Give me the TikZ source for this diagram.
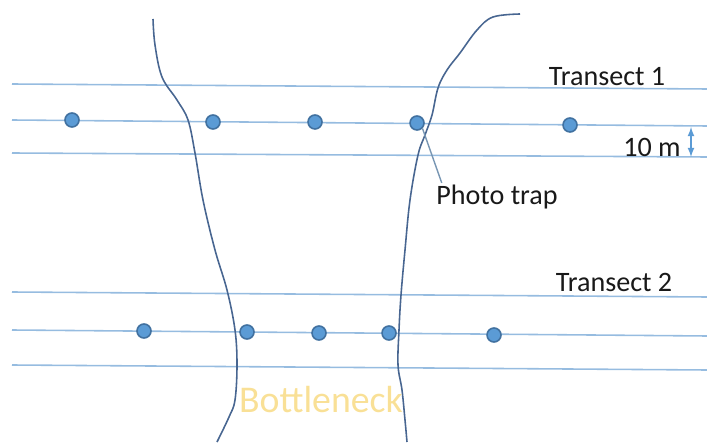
\documentclass[tikz,border=0pt]{standalone}
\usepackage{fontspec}
\setmainfont{Carlito}
\usepackage{xcolor}
\definecolor{transect}{RGB}{150,188,224}
\definecolor{camera}{RGB}{91,155,213}
\definecolor{cameraedge}{RGB}{65,113,160}
\definecolor{bank}{RGB}{72,102,145}
\definecolor{bottle}{RGB}{249,224,150}
\definecolor{label}{RGB}{25,25,25}
\tikzstyle{transect}=[color=transect, line width=0.9pt]
\tikzstyle{camera}=[circle, minimum size=14*0.2mm, inner sep=0pt, fill=camera, draw=cameraedge, line width=0.9pt]
\tikzstyle{bank}=[color=bank, line width=0.9pt]
\tikzstyle{label}=[text=label, font=\fontsize{16pt}{18pt}\selectfont, inner sep=1pt]

\begin{document}
\begin{tikzpicture}[x=0.2mm,y=-0.2mm]
  \useasboundingbox (0,0) rectangle (707,444);

  %% Transect 1
  \coordinate (A1W) at (12,84);  \coordinate (A1E) at (707,89);
  \coordinate (B1W) at (12,120); \coordinate (B1E) at (707,126);
  \coordinate (C1W) at (12,153); \coordinate (C1E) at (707,157);
  \draw[transect] (A1W) -- (A1E);
  \draw[transect] (B1W) -- (B1E);
  \draw[transect] (C1W) -- (C1E);

  %% Transect 2
  \coordinate (A2W) at (12,292); \coordinate (A2E) at (707,297);
  \coordinate (B2W) at (12,330); \coordinate (B2E) at (707,336);
  \coordinate (C2W) at (12,365); \coordinate (C2E) at (707,370);
  \draw[transect] (A2W) -- (A2E);
  \draw[transect] (B2W) -- (B2E);
  \draw[transect] (C2W) -- (C2E);

  %% Banks of the bottleneck
  \draw[bank] plot[smooth, tension=0.6] coordinates {(153,19) (155,45) (162,77) (177,100) (188,120) (195,153) (203,200) (215,250) (227,290) (235,330) (237,365) (235,400) (229,417) (217,442)};
  \draw[bank] plot[smooth, tension=0.6] coordinates {(520,14) (493,17) (477,30) (460,53) (447,70) (438,88) (432,115) (425,135) (418,155) (410,200) (405,250) (401,295) (399,330) (398,365) (402,390) (405,420) (407,442)};

  %% Photo traps
  \draw (72,120)  node[camera] (P11) {};
  \draw (213,122) node[camera] (P12) {};
  \draw (315,122) node[camera] (P13) {};
  \draw (417,123) node[camera] (P14) {};
  \draw (570,125) node[camera] (P15) {};

  \draw (144,331) node[camera] (P21) {};
  \draw (247,332) node[camera] (P22) {};
  \draw (319,333) node[camera] (P23) {};
  \draw (389,333) node[camera] (P24) {};
  \draw (494,335) node[camera] (P25) {};

  %% Labels
  \draw (607,77)  node[label] (T1) {Transect 1};
  \draw (614,282) node[label] (T2) {Transect 2};
  \draw (652,147) node[label] (W) {10 m};
  \draw (497,197) node[label] (PT) {Photo trap};
  \draw (321,400) node[text=bottle, font=\fontsize{21.5pt}{24pt}\selectfont, inner sep=1pt] (BN) {Bottleneck};

  \coordinate (WT) at (691,127);
  \coordinate (WB) at (691,157);
  \draw[latex-latex, color=camera, line width=0.8pt] (WT) -- (WB);
  \draw[color=transect!80!black, line width=0.8pt] (P14.south east) -- ([xshift=1.5mm]PT.north west);
\end{tikzpicture}
\end{document}
